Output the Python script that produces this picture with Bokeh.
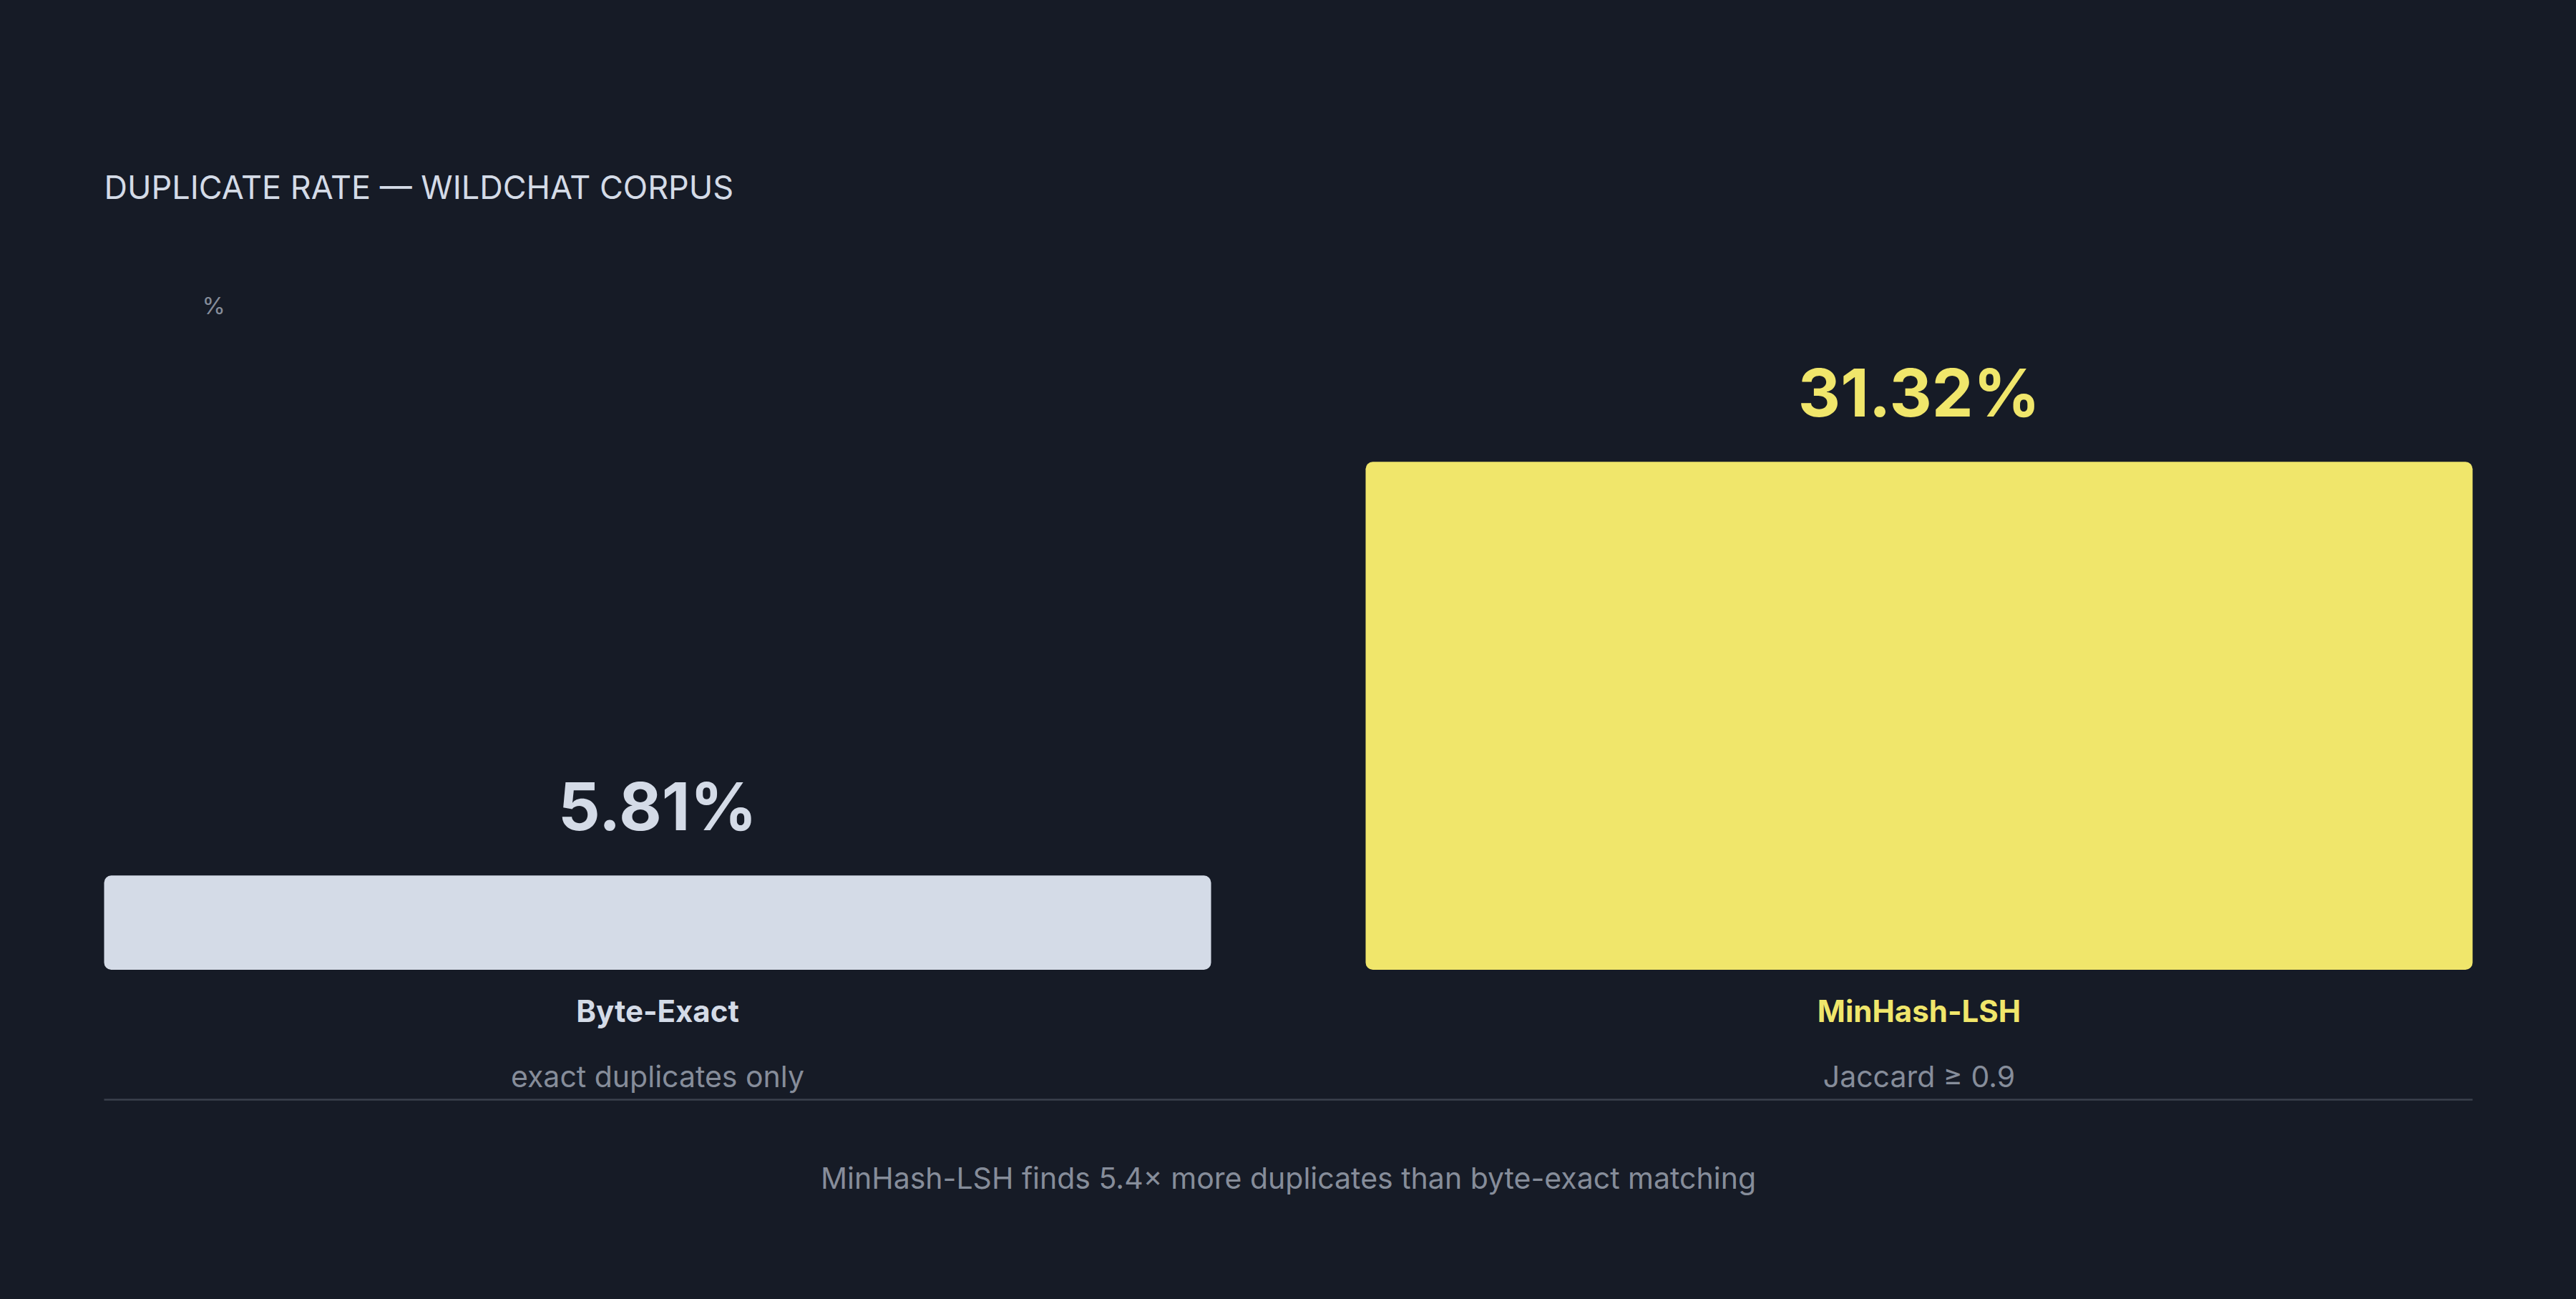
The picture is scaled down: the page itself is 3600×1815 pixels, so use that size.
from bokeh.plotting import figure
from bokeh.models import ColumnDataSource, FactorRange, Range1d, Label
from bokeh.transform import dodge
from bokeh.core.properties import value
from bokeh.embed import file_html
from bokeh.resources import INLINE

# ---- data ----
categories = ["Byte-Exact", "MinHash-LSH"]
dup_rate = [5.81, 31.32]
value_labels = ["5.81%", "31.32%"]
subtitles = ["exact duplicates only", "Jaccard \u2265 0.9"]
title_text = "DUPLICATE RATE \u2014 WILDCHAT CORPUS"
unit_text = "%"
footer_text = "MinHash-LSH finds 5.4\u00d7 more duplicates than byte-exact matching"

# ---- style ----
BG = "#161b26"
LIGHT = "#d4dbe7"
YELLOW = "#f0e66b"
GRAY = "#868d9a"
RULE = "#3b414d"
FONT = "Inter"

W, H = 3584, 1799
px_per_unit = 22.66
base_px = 452.5          # baseline distance from bottom of canvas
bar_w = 0.8775

bar_colors = [LIGHT, YELLOW]

src = ColumnDataSource(dict(
    cat=categories, val=dup_rate, vlab=value_labels, sub=subtitles,
    color=bar_colors, zero=[0, 0],
))

p = figure(
    width=W, height=H,
    x_range=FactorRange(*categories, range_padding=0.01645, range_padding_units="absolute"),
    y_range=Range1d(-base_px / px_per_unit, (H - base_px) / px_per_unit),
    output_backend="svg", toolbar_location=None,
    x_axis_location=None, y_axis_location=None,
    min_border=0,
)
p.background_fill_color = BG
p.border_fill_color = BG
p.outline_line_color = None
p.xgrid.visible = False
p.ygrid.visible = False

p.vbar(x="cat", top="val", bottom=0, width=bar_w, source=src,
       fill_color="color", line_color=None, border_radius=10)

# rule under the category captions, spanning the bars
rule_y = -(1536 - 1354.5) / px_per_unit
rule_src = ColumnDataSource(dict(a=[categories[0]], b=[categories[-1]], y=[rule_y]))
p.segment(x0=dodge("a", -bar_w / 2, range=p.x_range),
          x1=dodge("b", bar_w / 2, range=p.x_range),
          y0="y", y1="y", source=rule_src, line_color=RULE, line_width=2.5)

# sub captions
p.text(x="cat", y="zero", text="sub", source=src,
       text_align="center", y_offset=174, text_font=value(FONT),
       text_font_size="41px", text_color=GRAY)

# category names
p.text(x="cat", y="zero", text="cat", source=src,
       text_align="center", y_offset=83, text_font=value(FONT),
       text_font_style="bold", text_font_size="42px", text_color="color")

# value labels above the bars
p.text(x="cat", y="val", text="vlab", source=src,
       text_align="center", y_offset=-41, text_font=value(FONT),
       text_font_style="bold", text_font_size="92px", text_color="color")

# title
p.add_layout(Label(x=137, y=H - 269 - 11, x_units="screen", y_units="screen",
                   text=title_text, text_font=FONT, text_font_size="45px",
                   text_color=LIGHT, text_align="left"))

# unit label
p.add_layout(Label(x=274, y=H - 430 - 8, x_units="screen", y_units="screen",
                   text=unit_text, text_font=FONT, text_font_size="33px",
                   text_color=GRAY, text_align="left"))

# footer
p.add_layout(Label(x=W / 2, y=H - 1652 - 10, x_units="screen", y_units="screen",
                   text=footer_text, text_font=FONT, text_font_size="41px",
                   text_color=GRAY, text_align="center"))

html = file_html(p, INLINE)
html = html.replace("</head>", f"<style>html,body{{background:{BG};}} body{{margin:8px;}}</style></head>", 1)
open("out.html", "w").write(html)
